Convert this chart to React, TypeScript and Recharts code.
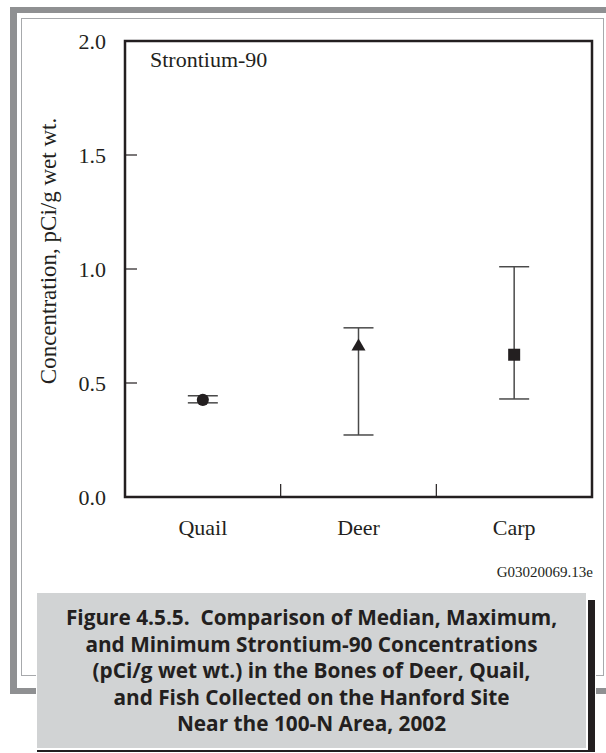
import { ComposedChart, Scatter, XAxis, YAxis, ErrorBar, Symbols, ReferenceArea } from 'recharts'

// values (pCi/g wet wt.)
const categories = ['Quail', 'Deer', 'Carp']
const medianValues = [0.426, 0.66, 0.624]
const maximumValues = [0.444, 0.742, 1.01]
const minimumValues = [0.413, 0.272, 0.43]
const markerShapes = ['circle', 'triangle', 'square']
const markerSizes = [115, 85, 144]
const yTicks = [0, 0.5, 1.0, 1.5, 2.0]
// category centres plus the boundaries between them
const xTicks = [1, 1.5, 2, 2.5, 3]

const captionLines = [
  'Figure 4.5.5.  Comparison of Median, Maximum,',
  'and Minimum Strontium-90 Concentrations',
  '(pCi/g wet wt.) in the Bones of Deer, Quail,',
  'and Fish Collected on the Hanford Site',
  'Near the 100-N Area, 2002',
]

const serif = '"Liberation Serif", "Times New Roman", serif'
const ink = '#231f20'
const frameGray = '#8f9092'

const series = categories.map((name, i) => ({
  name,
  data: [
    {
      pos: i + 1,
      median: medianValues[i],
      range: [medianValues[i] - minimumValues[i], maximumValues[i] - medianValues[i]],
    },
  ],
}))

const YLabel = ({ viewBox }: any) => {
  const cy = viewBox.y + viewBox.height / 2 - 18
  return (
    <text
      x={48}
      y={cy}
      transform={`rotate(-90, 48, ${cy})`}
      textAnchor="middle"
      dominantBaseline="central"
      fontFamily={serif}
      fontSize={23}
      fill={ink}
    >
      Concentration, pCi/g wet wt.
    </text>
  )
}

// y ticks point into the plot, labels sit outside
const ValueTick = ({ x, y, payload }: any) => (
  <g>
    <line x1={x} x2={x + 12} y1={y} y2={y} stroke={ink} strokeWidth={1.2} />
    <text x={x - 19} y={y} textAnchor="end" dominantBaseline="central" fontFamily={serif} fontSize={22} fill={ink}>
      {payload.value.toFixed(1)}
    </text>
  </g>
)

// whole positions get the category name, half positions a short divider tick
const CategoryTick = ({ x, y, payload }: any) => {
  if (Number.isInteger(payload.value)) {
    return (
      <text x={x} y={y + 38} textAnchor="middle" fontFamily={serif} fontSize={22} fill={ink}>
        {categories[payload.value - 1]}
      </text>
    )
  }
  return <line x1={x} x2={x} y1={y} y2={y - 13} stroke={ink} strokeWidth={1.2} />
}

export default function App() {
  return (
    <div style={{ position: 'absolute', left: 0, top: 0, width: 606, height: 753, background: '#fff', overflow: 'hidden' }}>
      {/* page frames */}
      <div
        style={{
          position: 'absolute',
          left: 10,
          top: 7,
          width: 620,
          height: 675,
          borderTop: `6px solid ${frameGray}`,
          borderLeft: `7px solid ${frameGray}`,
          borderBottom: `6px solid ${frameGray}`,
        }}
      />
      <div
        style={{
          position: 'absolute',
          left: 21,
          top: 18,
          width: 581,
          height: 656,
          border: '1.5px solid #a7a9ac',
        }}
      />

      <div style={{ position: 'absolute', left: 0, top: 0 }}>
        <ComposedChart width={606} height={600} margin={{ top: 41, right: 14, bottom: 63, left: 65 }}>
          <XAxis
            xAxisId="cat"
            type="number"
            dataKey="pos"
            domain={[0.5, 3.5]}
            ticks={xTicks}
            interval={0}
            tickLine={false}
            tickSize={0}
            tickMargin={0}
            axisLine={false}
            tick={<CategoryTick />}
            height={40}
          />
          <YAxis
            yAxisId="left"
            dataKey="median"
            type="number"
            domain={[0, 2]}
            ticks={yTicks}
            interval={0}
            tickLine={false}
            tickSize={0}
            tickMargin={0}
            axisLine={false}
            tick={<ValueTick />}
            width={60}
            label={{ content: YLabel }}
          />
          <ReferenceArea
            xAxisId="cat"
            yAxisId="left"
            x1={0.5}
            x2={3.5}
            y1={0}
            y2={2}
            fill="none"
            fillOpacity={0}
            stroke={ink}
            strokeWidth={2.5}
            strokeOpacity={1}
          />
          {series.map((s, i) => (
            <Scatter
              key={s.name}
              name={s.name}
              xAxisId="cat"
              yAxisId="left"
              data={s.data}
              dataKey="median"
              fill={ink}
              isAnimationActive={false}
              shape={(p: any) => (
                <Symbols cx={p.cx} cy={p.cy} type={markerShapes[i] as any} size={markerSizes[i]} fill={ink} />
              )}
            >
              <ErrorBar dataKey="range" direction="y" width={15} stroke="#4a4a4a" strokeWidth={1.5} isAnimationActive={false} />
            </Scatter>
          ))}
        </ComposedChart>
      </div>

      <div style={{ position: 'absolute', left: 150, top: 47, fontFamily: serif, fontSize: 22, color: ink, lineHeight: 1.2 }}>
        Strontium-90
      </div>
      <div
        style={{
          position: 'absolute',
          right: 13,
          top: 564,
          fontFamily: serif,
          fontSize: 15,
          color: ink,
        }}
      >
        G03020069.13e
      </div>

      {/* caption block */}
      <div style={{ position: 'absolute', left: 36, top: 592, width: 560, height: 161, background: '#fff' }} />
      <div style={{ position: 'absolute', left: 588, top: 600, width: 7, height: 151, background: ink }} />
      <div style={{ position: 'absolute', left: 37, top: 750, width: 558, height: 2, background: ink }} />
      <div
        style={{
          position: 'absolute',
          left: 37,
          top: 593,
          width: 549,
          height: 155,
          background: '#d1d3d4',
          display: 'flex',
          flexDirection: 'column',
          justifyContent: 'center',
          alignItems: 'center',
          fontFamily: '"Open Sans", Lato, sans-serif',
          fontWeight: 700,
          fontSize: 20.8,
          lineHeight: '26.5px',
          color: ink,
          textAlign: 'center',
        }}
      >
        {captionLines.map((line) => (
          <div key={line} style={{ whiteSpace: 'pre' }}>
            {line}
          </div>
        ))}
      </div>
    </div>
  )
}
